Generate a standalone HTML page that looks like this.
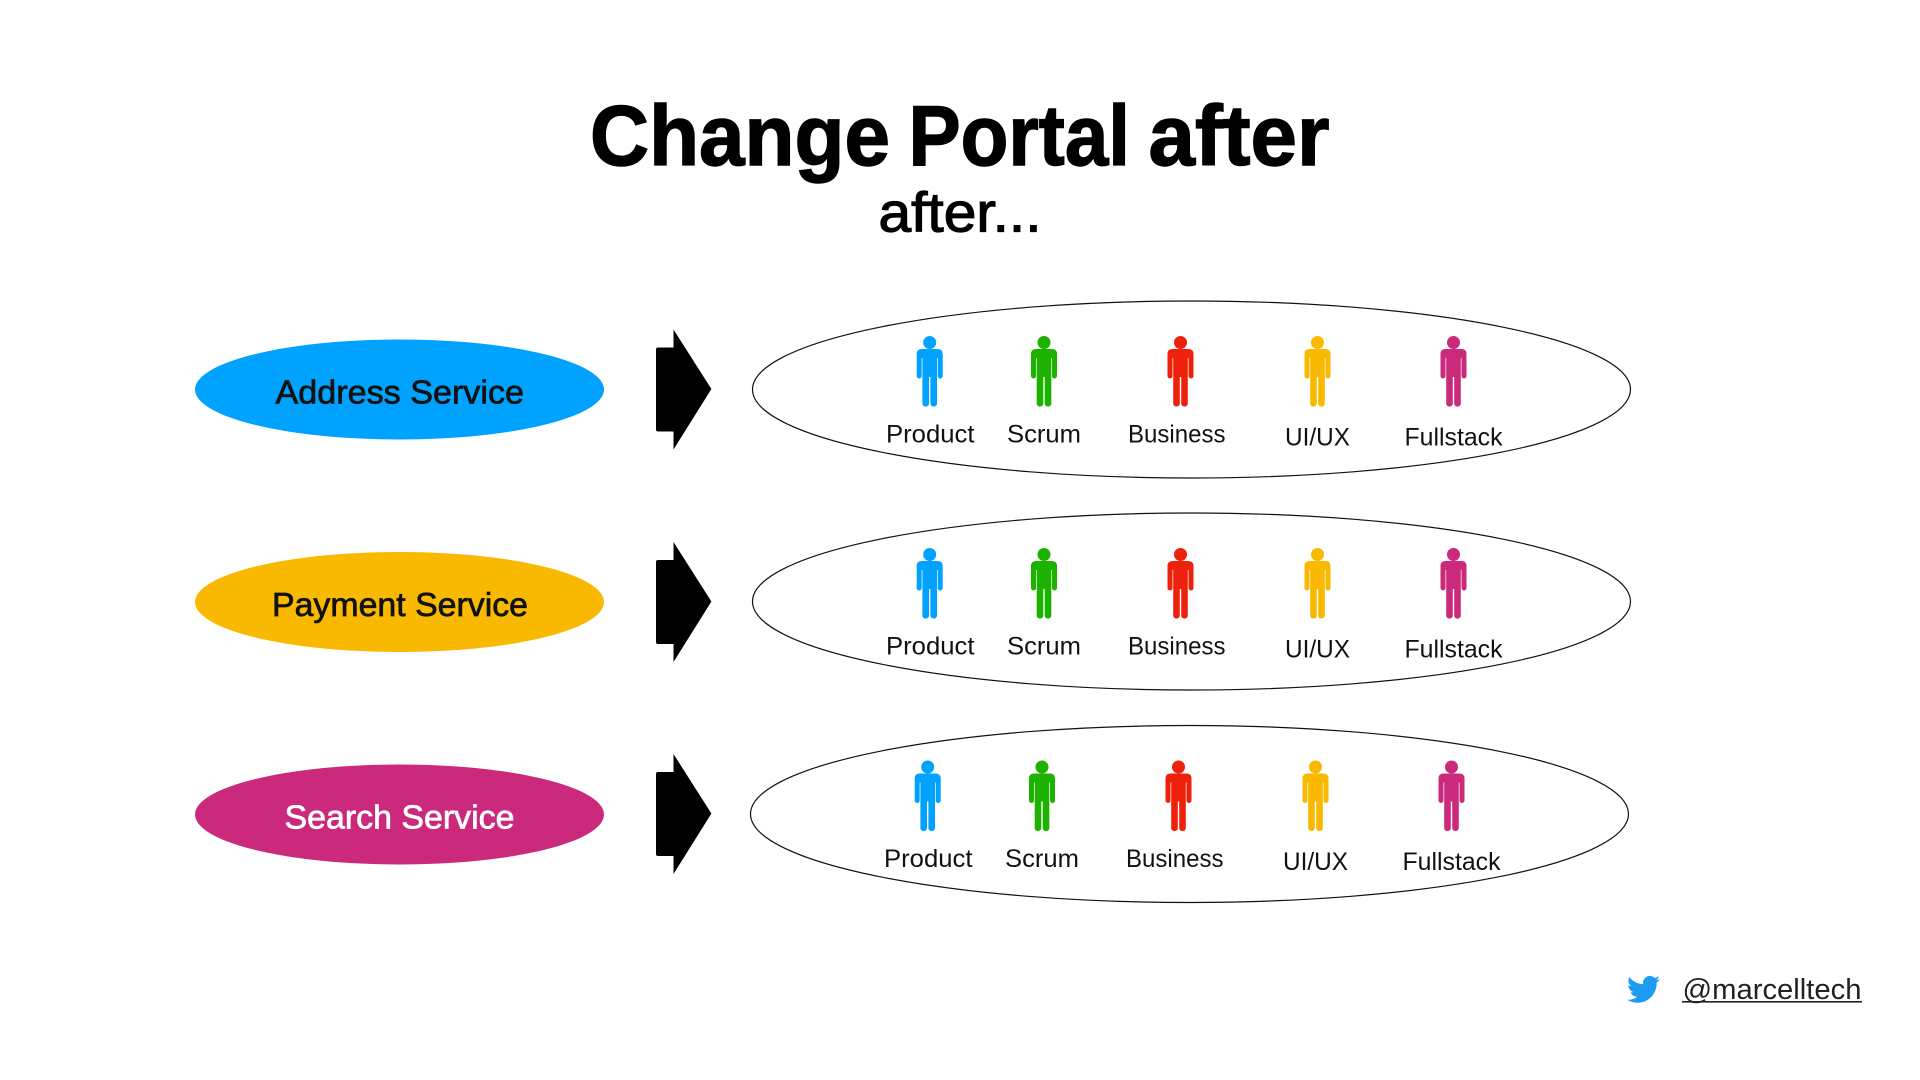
<!DOCTYPE html>
<html><head><meta charset="utf-8"><title>Change Portal after</title>
<style>html,body{margin:0;padding:0;background:#fff}svg{display:block}text{font-family:"Liberation Sans",sans-serif}</style></head>
<body>
<svg xmlns="http://www.w3.org/2000/svg" width="1920" height="1080" viewBox="0 0 1920 1080">
<defs>
<g id="p"><circle cx="0" cy="6.5" r="6.5"/><path d="M-8,13H8Q13,13 13,18V40a2.5,2.5 0 0 1-5,0V22H7.3V68a3.4,3.4 0 0 1-6.6,0V41H-.7V68a3.4,3.4 0 0 1-6.6,0V22H-8V40a2.5,2.5 0 0 1-5,0V18Q-13,13 -8,13Z"/></g>
<path id="a" d="M658,347.5H673.5V329.5L711.4,389L673.5,449.5V431.5H658Q656,431.5 656,429.5V349.5Q656,347.5 658,347.5Z"/>
<g id="r">
<ellipse cx="1191.5" cy="389.5" rx="439" ry="88.5" fill="#fff" stroke="#111" stroke-width="1.2"/>
<use href="#p" x="929.7" y="336" fill="#00a2ff"/>
<use href="#p" x="1044" y="336" fill="#1db100"/>
<use href="#p" x="1180.5" y="336" fill="#ee220c"/>
<use href="#p" x="1317.5" y="336" fill="#f9b900"/>
<use href="#p" x="1453.5" y="336" fill="#cb297b"/>
<g font-size="25" fill="#111">
<text x="886" y="442.5" textLength="88.5" lengthAdjust="spacingAndGlyphs">Product</text>
<text x="1007" y="442.5" textLength="74" lengthAdjust="spacingAndGlyphs">Scrum</text>
<text x="1128" y="442.5" textLength="97.5" lengthAdjust="spacingAndGlyphs">Business</text>
<text x="1285" y="445.5" textLength="65" lengthAdjust="spacingAndGlyphs">UI/UX</text>
<text x="1404.5" y="445.5" textLength="98" lengthAdjust="spacingAndGlyphs">Fullstack</text>
</g>
</g>
</defs>

<g font-size="85" font-weight="700" fill="#000" stroke="#000" stroke-width="1.4">
<text x="590" y="165" textLength="300" lengthAdjust="spacingAndGlyphs">Change</text>
<text x="908.5" y="165" textLength="221.5" lengthAdjust="spacingAndGlyphs">Portal</text>
<text x="1148.5" y="165" textLength="181" lengthAdjust="spacingAndGlyphs">after</text>
</g>
<text x="878.5" y="231.5" font-size="56" fill="#000" stroke="#000" stroke-width="1.2" textLength="163" lengthAdjust="spacingAndGlyphs">after...</text>

<ellipse cx="399.5" cy="389.5" rx="204.5" ry="50" fill="#00a2ff"/>
<ellipse cx="399.5" cy="602" rx="204.5" ry="50" fill="#f9b900"/>
<ellipse cx="399.5" cy="814.5" rx="204.5" ry="50" fill="#cb297b"/>
<g font-size="33" stroke-width=".7">
<text x="275.5" y="403.5" fill="#111" stroke="#111" textLength="248.5" lengthAdjust="spacingAndGlyphs">Address Service</text>
<text x="272" y="616" fill="#111" stroke="#111" textLength="256" lengthAdjust="spacingAndGlyphs">Payment Service</text>
<text x="284.5" y="828.5" fill="#fff" stroke="#fff" textLength="230" lengthAdjust="spacingAndGlyphs">Search Service</text>
</g>

<use href="#a"/>
<use href="#a" y="212.5"/>
<use href="#a" y="424.5"/>

<use href="#r"/>
<use href="#r" y="212"/>
<use href="#r" x="-2" y="424.5"/>

<path transform="translate(1627,972.8) scale(1.375)" fill="#1d9bf0" d="M23.953 4.57a10 10 0 01-2.825.775 4.958 4.958 0 002.163-2.723c-.951.555-2.005.959-3.127 1.184a4.92 4.92 0 00-8.384 4.482C7.69 8.095 4.067 6.13 1.64 3.162a4.822 4.822 0 00-.666 2.475c0 1.71.87 3.213 2.188 4.096a4.904 4.904 0 01-2.228-.616v.06a4.923 4.923 0 003.946 4.827 4.996 4.996 0 01-2.212.085 4.936 4.936 0 004.604 3.417 9.867 9.867 0 01-6.102 2.105c-.39 0-.779-.023-1.17-.067a13.995 13.995 0 007.557 2.209c9.053 0 13.998-7.496 13.998-13.985 0-.21 0-.42-.015-.63A9.935 9.935 0 0024 4.59z"/>
<text x="1682.5" y="999" font-size="29" fill="#222" textLength="179" lengthAdjust="spacingAndGlyphs">@marcelltech</text>
<rect x="1682" y="1001" width="180" height="1.6" fill="#222"/>
</svg>
</body></html>
